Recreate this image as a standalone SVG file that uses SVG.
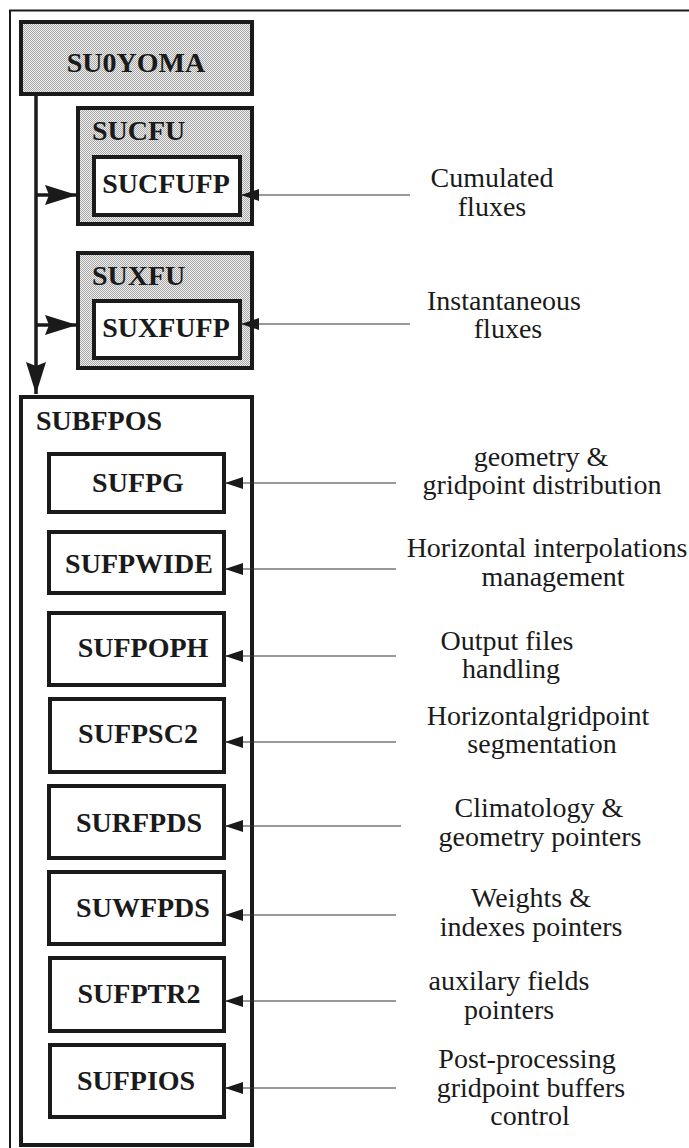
<svg xmlns="http://www.w3.org/2000/svg" width="689" height="1148" viewBox="0 0 689 1148">
<style>
.box{stroke:#1a1a1a;stroke-width:4;fill:#fff}
.shade{fill:url(#dots)}
.lbl{font-family:"Liberation Serif","Times New Roman",serif;font-weight:bold;font-size:28px;fill:#1a1a1a}
.desc{font-family:"Liberation Serif","Times New Roman",serif;font-size:28px;fill:#1a1a1a;text-anchor:middle}
.thin{stroke:#333;stroke-width:1.2;fill:none}
.thick{stroke:#1a1a1a;stroke-width:3.5;fill:none}
</style>
<defs>
<pattern id="dots" width="2" height="2" patternUnits="userSpaceOnUse">
<rect width="2" height="2" fill="#eeeeee"/>
<rect x="0" y="0" width="1" height="1" fill="#a8a8a8"/>
<rect x="1" y="1" width="1" height="1" fill="#a8a8a8"/>
</pattern>
<marker id="big" markerUnits="userSpaceOnUse" markerWidth="34" markerHeight="22" refX="32" refY="11" orient="auto">
<path d="M0,1 L32,11 L0,21 L4,11 Z" fill="#1a1a1a"/>
</marker>
<marker id="small" markerUnits="userSpaceOnUse" markerWidth="20" markerHeight="12" refX="18" refY="6" orient="auto">
<path d="M0,0 L18,6 L0,12 Z" fill="#1a1a1a"/>
</marker>
</defs>
<rect width="689" height="1148" fill="#fff"/>
<g id="frame">
<path d="M10,1148 L10,10.5 L689,10.5" fill="none" stroke="#1a1a1a" stroke-width="2"/>
</g>
<g id="su0yoma">
<rect class="box shade" x="21" y="22" width="231" height="72"/>
<text class="lbl" x="136" y="72" text-anchor="middle">SU0YOMA</text>
</g>
<g id="sucfu">
<rect class="box shade" x="78" y="108" width="174" height="116"/>
<text class="lbl" x="92" y="140">SUCFU</text>
</g>
<g id="sucfufp">
<rect class="box" x="94" y="157" width="146" height="58"/>
<text class="lbl" x="166" y="193" text-anchor="middle">SUCFUFP</text>
</g>
<g id="suxfu">
<rect class="box shade" x="78" y="253" width="174" height="115"/>
<text class="lbl" x="92" y="285">SUXFU</text>
</g>
<g id="suxfufp">
<rect class="box" x="94" y="301" width="146" height="57"/>
<text class="lbl" x="166" y="337" text-anchor="middle">SUXFUFP</text>
</g>
<g id="subfpos">
<rect class="box" x="21" y="397" width="231" height="748" style="fill:none"/>
<text class="lbl" x="36" y="430">SUBFPOS</text>
</g>
<g id="sufpg">
<rect class="box" x="49" y="454" width="175" height="58"/>
<text class="lbl" x="138" y="492" text-anchor="middle">SUFPG</text>
</g>
<g id="sufpwide">
<rect class="box" x="49" y="532" width="175" height="61"/>
<text class="lbl" x="139" y="573" text-anchor="middle">SUFPWIDE</text>
</g>
<g id="sufpoph">
<rect class="box" x="49" y="613" width="175" height="72"/>
<text class="lbl" x="143" y="657" text-anchor="middle">SUFPOPH</text>
</g>
<g id="sufpsc2">
<rect class="box" x="50" y="699" width="174" height="73"/>
<text class="lbl" x="138" y="743" text-anchor="middle">SUFPSC2</text>
</g>
<g id="surfpds">
<rect class="box" x="49" y="786" width="175" height="72"/>
<text class="lbl" x="139" y="832" text-anchor="middle">SURFPDS</text>
</g>
<g id="suwfpds">
<rect class="box" x="49" y="872" width="175" height="72"/>
<text class="lbl" x="143" y="917" text-anchor="middle">SUWFPDS</text>
</g>
<g id="sufptr2">
<rect class="box" x="50" y="958" width="174" height="73"/>
<text class="lbl" x="139" y="1003" text-anchor="middle">SUFPTR2</text>
</g>
<g id="sufpios">
<rect class="box" x="50" y="1045" width="174" height="72"/>
<text class="lbl" x="136" y="1090" text-anchor="middle">SUFPIOS</text>
</g>
<g id="descriptions">
<text class="desc" x="492" y="187">Cumulated</text>
<text class="desc" x="492" y="216">fluxes</text>
<text class="desc" x="504" y="310">Instantaneous</text>
<text class="desc" x="508" y="338">fluxes</text>
<text class="desc" x="541" y="466">geometry &amp;</text>
<text class="desc" x="542" y="494">gridpoint distribution</text>
<text class="desc" x="547" y="557">Horizontal interpolations</text>
<text class="desc" x="553" y="586">management</text>
<text class="desc" x="507" y="650">Output files</text>
<text class="desc" x="511" y="678">handling</text>
<text class="desc" x="538" y="725">Horizontalgridpoint</text>
<text class="desc" x="542" y="753">segmentation</text>
<text class="desc" x="539" y="817">Climatology &amp;</text>
<text class="desc" x="540" y="846">geometry pointers</text>
<text class="desc" x="531" y="907">Weights &amp;</text>
<text class="desc" x="531" y="936">indexes pointers</text>
<text class="desc" x="509" y="990">auxilary fields</text>
<text class="desc" x="509" y="1019">pointers</text>
<text class="desc" x="527" y="1068">Post-processing</text>
<text class="desc" x="531" y="1097">gridpoint buffers</text>
<text class="desc" x="530" y="1125">control</text>
</g>
<g id="connectors">
<path class="thick" d="M36,94 L36,394" marker-end="url(#big)"/>
<path class="thick" d="M36,195 L77,195" marker-end="url(#big)"/>
<path class="thick" d="M36,325 L77,325" marker-end="url(#big)"/>
<path class="thin" d="M410,195 L241,195" marker-end="url(#small)"/>
<path class="thin" d="M410,324 L241,324" marker-end="url(#small)"/>
<path class="thin" d="M396,483 L225,483" marker-end="url(#small)"/>
<path class="thin" d="M396,569 L225,569" marker-end="url(#small)"/>
<path class="thin" d="M396,656 L225,656" marker-end="url(#small)"/>
<path class="thin" d="M396,742 L225,742" marker-end="url(#small)"/>
<path class="thin" d="M401,826 L225,826" marker-end="url(#small)"/>
<path class="thin" d="M396,915 L225,915" marker-end="url(#small)"/>
<path class="thin" d="M396,1001 L225,1001" marker-end="url(#small)"/>
<path class="thin" d="M396,1088 L225,1088" marker-end="url(#small)"/>
</g>
</svg>
